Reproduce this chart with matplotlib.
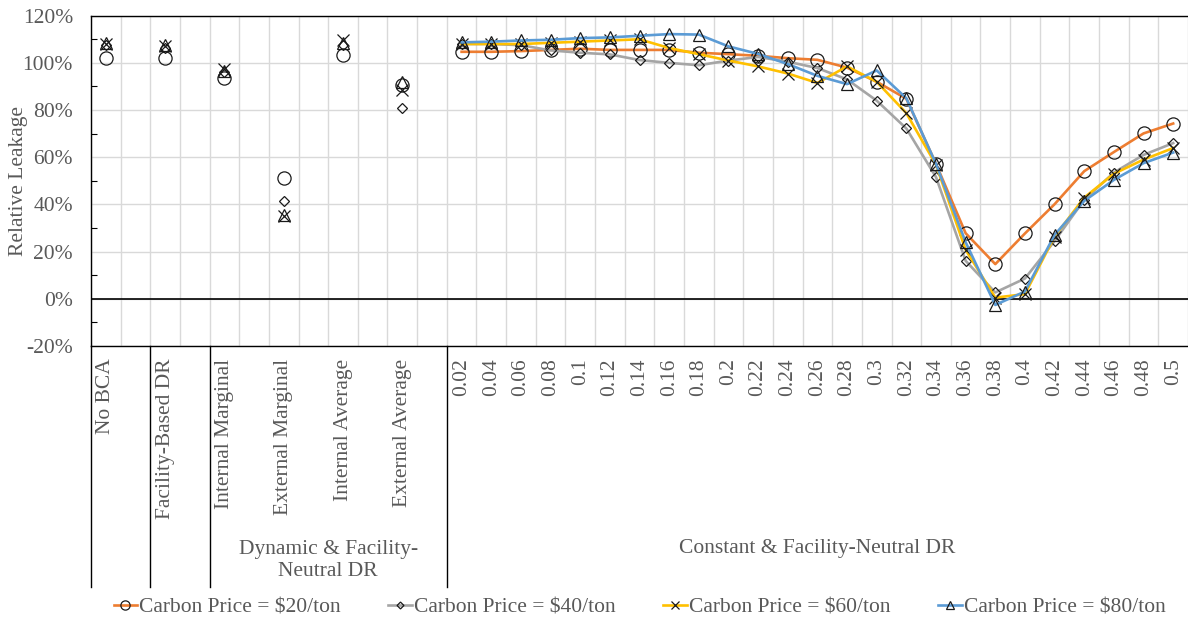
import numpy as np
import matplotlib
matplotlib.use("Agg")
import matplotlib.pyplot as plt
import matplotlib.transforms as mtransforms
from matplotlib.lines import Line2D
from matplotlib.ticker import FixedLocator, FuncFormatter, MultipleLocator

# ---- data (relative leakage, %) ----
policies = ["No BCA", "Facility-Based DR", "Internal Marginal",
            "External Marginal", "Internal Average", "External Average"]
rates = ["0.02", "0.04", "0.06", "0.08", "0.1", "0.12", "0.14", "0.16", "0.18",
         "0.2", "0.22", "0.24", "0.26", "0.28", "0.3", "0.32", "0.34", "0.36",
         "0.38", "0.4", "0.42", "0.44", "0.46", "0.48", "0.5"]
series_names = ["Carbon Price = $20/ton", "Carbon Price = $40/ton",
                "Carbon Price = $60/ton", "Carbon Price = $80/ton"]

policy_20 = [102.0, 102.0, 93.5, 51.0, 103.5, 90.5]
policy_40 = [107.5, 106.5, 96.0, 41.5, 107.5, 81.0]
policy_60 = [108.0, 107.0, 97.5, 35.0, 109.5, 88.5]
policy_80 = [108.5, 107.5, 96.5, 35.5, 108.5, 92.0]

rate_20 = [104.7, 104.7, 105.0, 105.5, 106.0, 105.5, 105.5, 105.5, 104.3, 103.7,
           103.0, 102.0, 101.3, 98.0, 92.0, 84.8, 57.2, 27.8, 14.7, 27.7,
           40.1, 54.1, 62.2, 70.1, 74.3]
rate_40 = [108.0, 108.0, 107.5, 105.3, 104.3, 103.6, 101.2, 100.0, 99.0, 101.0,
           102.5, 100.5, 97.8, 93.0, 84.0, 72.2, 51.6, 16.1, 2.7, 8.6,
           24.5, 42.0, 53.5, 61.0, 66.0]
rate_60 = [108.0, 108.0, 108.0, 108.5, 109.0, 109.5, 110.0, 106.3, 103.7, 101.0,
           98.5, 95.5, 91.5, 98.5, 92.0, 78.7, 56.8, 20.8, 0.5, 2.0,
           26.4, 42.9, 53.0, 59.0, 63.9]
rate_80 = [108.7, 109.0, 109.5, 109.8, 110.5, 110.8, 111.5, 112.2, 112.0, 107.0,
           103.8, 99.5, 94.5, 91.0, 96.8, 85.0, 57.2, 24.0, -2.6, 3.1,
           27.1, 41.5, 50.4, 57.5, 62.0]

policy_values = [policy_20, policy_40, policy_60, policy_80]
rate_values = [rate_20, rate_40, rate_60, rate_80]

# ---- styling ----
plt.rcParams["font.family"] = ["Liberation Serif", "DejaVu Serif"]
FS = 15.5
TEXT = "#595959"
GRID = "#D9D9D9"
colors = ["#ED7D31", "#A5A5A5", "#FFC000", "#5B9BD5"]
markers = ["o", "D", "x", "^"]
msizes = [9.5, 5.0, 8.5, 9.0]
EDGE = "#1a1a1a"

W, H = 1188, 621
fig = plt.figure(figsize=(W / 100, H / 100), dpi=100)
ax_top, ax_bot, ax_left = 15.7, 346.0, 91.0
ax = fig.add_axes([ax_left / W, 1 - ax_bot / H, 1 - ax_left / W, (ax_bot - ax_top) / H])
ax_h = ax_bot - ax_top

# category slots: each policy occupies two slots, each rate one slot
policy_x = [2 * i for i in range(len(policies))]
rate_x = [2 * len(policies) + i for i in range(len(rates))]

for vals, c, m, ms in zip(policy_values, colors, markers, msizes):
    ax.plot(policy_x, vals, linestyle="none", marker=m, markersize=ms,
            markerfacecolor="none", markeredgecolor=EDGE, markeredgewidth=0.9,
            zorder=4)

handles = []
for vals, c, m, ms, name in zip(rate_values, colors, markers, msizes, series_names):
    h, = ax.plot(rate_x, vals, color=c, lw=1.9, marker=m, markersize=ms,
                 markerfacecolor="none", markeredgecolor=EDGE, markeredgewidth=0.9,
                 label=name, zorder=3)
    handles.append(h)

ax.set_xlim(-0.5, rate_x[-1] + 0.5)
ax.set_ylim(-20, 120)

# axes decorations
ax.yaxis.set_major_locator(MultipleLocator(20))
ax.yaxis.set_minor_locator(MultipleLocator(10))
ax.yaxis.set_major_formatter(FuncFormatter(lambda v, p: f"{v:.0f}%"))
ax.tick_params(axis="y", which="major", length=0, pad=13, labelsize=FS, labelcolor=TEXT)
ax.tick_params(axis="y", which="minor", direction="in", length=4.5, width=0.8,
               color="black")

ax.xaxis.set_major_locator(FixedLocator(policy_x + rate_x))
ax.set_xticklabels(policies + rates, rotation=90)
ax.xaxis.set_minor_locator(FixedLocator(np.arange(-0.5, rate_x[-1] + 1.0, 1.0)))
ax.tick_params(axis="x", which="both", length=0)
ax.tick_params(axis="x", which="major", pad=9, labelsize=FS, labelcolor=TEXT)

ax.grid(True, which="minor", axis="x", color=GRID, lw=1.0)
ax.grid(True, which="major", axis="y", color=GRID, lw=1.0)
ax.set_axisbelow(True)

for side in ["left", "top", "bottom"]:
    ax.spines[side].set_color("black")
    ax.spines[side].set_linewidth(1.0)
ax.spines["right"].set_visible(False)
ax.axhline(0, color="black", lw=1.2, zorder=2)

ax.set_ylabel("Relative Leakage", fontsize=FS, color=TEXT)
ax.yaxis.set_label_coords((28 - ax_left) / (W - ax_left), 0.5)

# group separators and labels below the axis
trans = mtransforms.blended_transform_factory(ax.transData, ax.transAxes)
sep_bottom = -(587 - ax_bot) / ax_h
for x in [policy_x[0] - 0.5, policy_x[1] - 0.5, policy_x[2] - 0.5, rate_x[0] - 0.5]:
    ax.add_line(Line2D([x, x], [0, sep_bottom], transform=trans, color="black",
                       lw=1.0, clip_on=False))

dyn_center = (policy_x[2] - 0.5 + rate_x[0] - 0.5) / 2
const_center = (rate_x[0] - 0.5 + rate_x[-1] + 0.5) / 2
ax.text(dyn_center, -(560.5 - ax_bot) / ax_h, "Dynamic & Facility-\nNeutral DR",
        transform=trans, ha="center", va="center", fontsize=FS, color=TEXT,
        linespacing=1.15)
ax.text(const_center, -(548 - ax_bot) / ax_h, "Constant & Facility-Neutral DR",
        transform=trans, ha="center", va="center", fontsize=FS, color=TEXT)

leg = ax.legend(handles=handles, loc="center", ncol=4, frameon=False,
                bbox_to_anchor=(0.5, -(607 - ax_bot) / ax_h), fontsize=FS,
                handlelength=1.1, handletextpad=0.1, columnspacing=2.2,
                markerscale=0.7, labelcolor=TEXT)

fig.savefig("out.png", dpi=100, facecolor="white")
